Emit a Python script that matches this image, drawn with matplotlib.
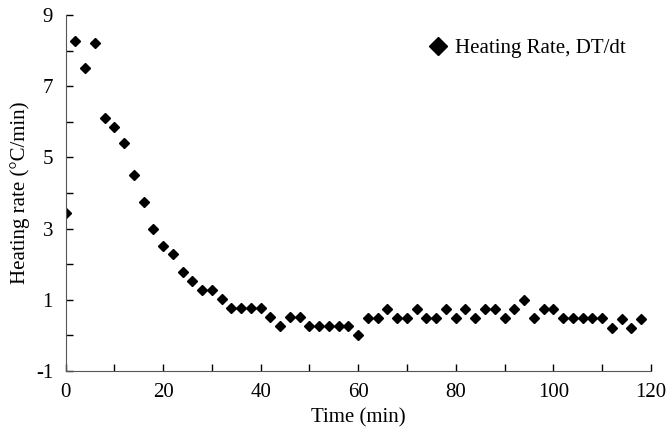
import matplotlib.pyplot as plt
from matplotlib.ticker import MultipleLocator

# data
time_min = [0, 2, 4, 6, 8, 10, 12, 14, 16, 18,
            20, 22, 24, 26, 28, 30, 32, 34, 36, 38,
            40, 42, 44, 46, 48, 50, 52, 54, 56, 58,
            60, 62, 64, 66, 68, 70, 72, 74, 76, 78,
            80, 82, 84, 86, 88, 90, 92, 94, 96, 98,
            100, 102, 104, 106, 108, 110, 112, 114, 116, 118]
heating_rate = [3.43, 8.28, 7.5, 8.22, 6.1, 5.85, 5.41, 4.49, 3.75, 2.99,
                2.51, 2.28, 1.78, 1.53, 1.28, 1.28, 1.01, 0.78, 0.78, 0.78,
                0.78, 0.52, 0.26, 0.52, 0.52, 0.26, 0.26, 0.26, 0.26, 0.26,
                0.0, 0.5, 0.5, 0.75, 0.5, 0.5, 0.75, 0.5, 0.5, 0.75,
                0.5, 0.75, 0.5, 0.75, 0.75, 0.5, 0.75, 1.0, 0.48, 0.75,
                0.75, 0.48, 0.48, 0.48, 0.48, 0.48, 0.2, 0.47, 0.2, 0.45]
y_ticks = [-1, 1, 3, 5, 7, 9]
x_ticks = [0, 20, 40, 60, 80, 100, 120]

plt.rcParams['font.family'] = ['Liberation Serif', 'DejaVu Serif']
plt.rcParams['font.size'] = 15
plt.rcParams['axes.unicode_minus'] = False

fig = plt.figure(figsize=(6.72, 4.38), dpi=100)
ax = fig.add_axes([0.0975, 0.153, 0.871, 0.813])

ax.plot(time_min, heating_rate, linestyle='none', marker='D', markersize=5.4,
        color='black', label='Heating Rate, DT/dt')

ax.set_xlim(0, 120)
ax.set_ylim(-1, 9)
ax.set_xticks(x_ticks)
ax.set_yticks(y_ticks)
ax.xaxis.set_minor_locator(MultipleLocator(10))
ax.yaxis.set_minor_locator(MultipleLocator(1))
ax.tick_params(which='both', direction='in', length=5, width=1, labelsize=15)
ax.tick_params(axis='x', pad=9)
ax.tick_params(axis='y', pad=9)
ax.spines['top'].set_visible(False)
ax.spines['right'].set_visible(False)
ax.spines['left'].set_color('#555555')
ax.spines['bottom'].set_color('#555555')

ax.set_xlabel('Time (min)', fontsize=15, labelpad=4)
ax.set_ylabel('Heating rate (°C/min)', fontsize=15, labelpad=4)

ax.legend(loc='center left', bbox_to_anchor=(0.605, 0.907), frameon=False,
          markerscale=1.7, handletextpad=0.3, handlelength=1.0,
          fontsize=15, borderaxespad=0)

fig.savefig('out.png', dpi=100)
